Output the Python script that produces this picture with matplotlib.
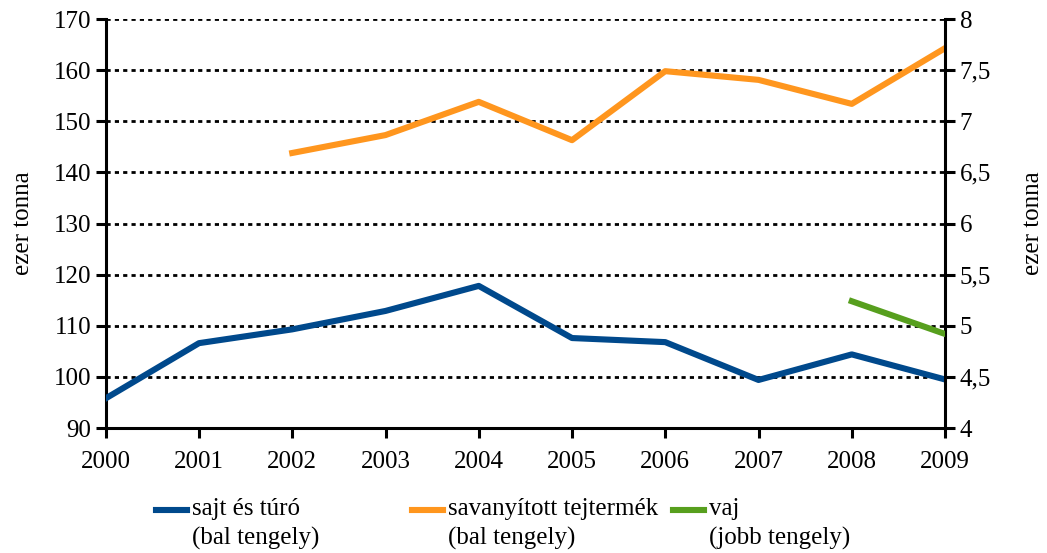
import matplotlib.pyplot as plt
from matplotlib.lines import Line2D

plt.rcParams['font.family'] = ['Liberation Serif', 'DejaVu Serif']

# data
years = list(range(2000, 2010))
sajt = [95.8, 106.6, 109.3, 112.9, 117.8, 107.6, 106.8, 99.4, 104.4, 99.5]
savanyitott_years = list(range(2002, 2010))
savanyitott = [143.8, 147.3, 153.8, 146.3, 159.8, 158.1, 153.4, 164.3]
vaj_years = [2008, 2009]
vaj = [5.24, 4.92]

left_ticks = list(range(90, 171, 10))
right_ticks = [4, 4.5, 5, 5.5, 6, 6.5, 7, 7.5, 8]
right_labels = ['4', '4,5', '5', '5,5', '6', '6,5', '7', '7,5', '8']

legend_labels = ['sajt és túró\n(bal tengely)',
                 'savanyított tejtermék\n(bal tengely)',
                 'vaj\n(jobb tengely)']

c_blue = '#00498C'
c_orange = '#FF961E'
c_green = '#579F1E'

fs = 18

fig = plt.figure(figsize=(10.47, 5.53), dpi=100)
ax = fig.add_axes([0.101, 0.226, 0.8016, 0.7396])
ax2 = ax.twinx()

ax.set_xlim(2000, 2009)
ax.set_ylim(90, 170)
ax2.set_ylim(4, 8)

# dotted grid
for v in left_ticks[1:]:
    ax.axhline(v, color='black', lw=2, ls=(0, (1.5, 1.5)), zorder=1)

ax.plot(years, sajt, color=c_blue, lw=4.4, zorder=3)
ax.plot(savanyitott_years, savanyitott, color=c_orange, lw=4.4, zorder=3)
ax2.plot(vaj_years, vaj, color=c_green, lw=4.4, zorder=3)

ax.set_xticks(years)
ax.set_yticks(left_ticks)
ax2.set_yticks(right_ticks)
ax2.set_yticklabels(right_labels)

for a in (ax, ax2):
    a.spines['top'].set_visible(False)
    for s in ('left', 'right', 'bottom'):
        a.spines[s].set_linewidth(2.2)
    a.tick_params(direction='out', length=7.5, width=2.2, labelsize=fs, pad=3)
ax.spines['right'].set_visible(False)
ax2.spines['left'].set_visible(False)
ax2.spines['bottom'].set_visible(False)
ax.tick_params(axis='x', pad=9)

ax.set_ylabel('ezer tonna', fontsize=fs, labelpad=14)
ax2.set_ylabel('ezer tonna', fontsize=fs, labelpad=22, rotation=90)

# legend: handle level with the first text line
W, H = 1047, 553
lx = [156, 412, 673]
for col, lab, x0 in zip([c_blue, c_orange, c_green], legend_labels, lx):
    fig.add_artist(Line2D([x0 / W, (x0 + 31) / W], [1 - 510 / H] * 2,
                          transform=fig.transFigure, color=col, lw=4.4))
    fig.text((x0 + 36) / W, 1 - 498 / H, lab, fontsize=fs, va='top',
             ha='left', linespacing=1.4)

fig.savefig('out.png', dpi=100)
